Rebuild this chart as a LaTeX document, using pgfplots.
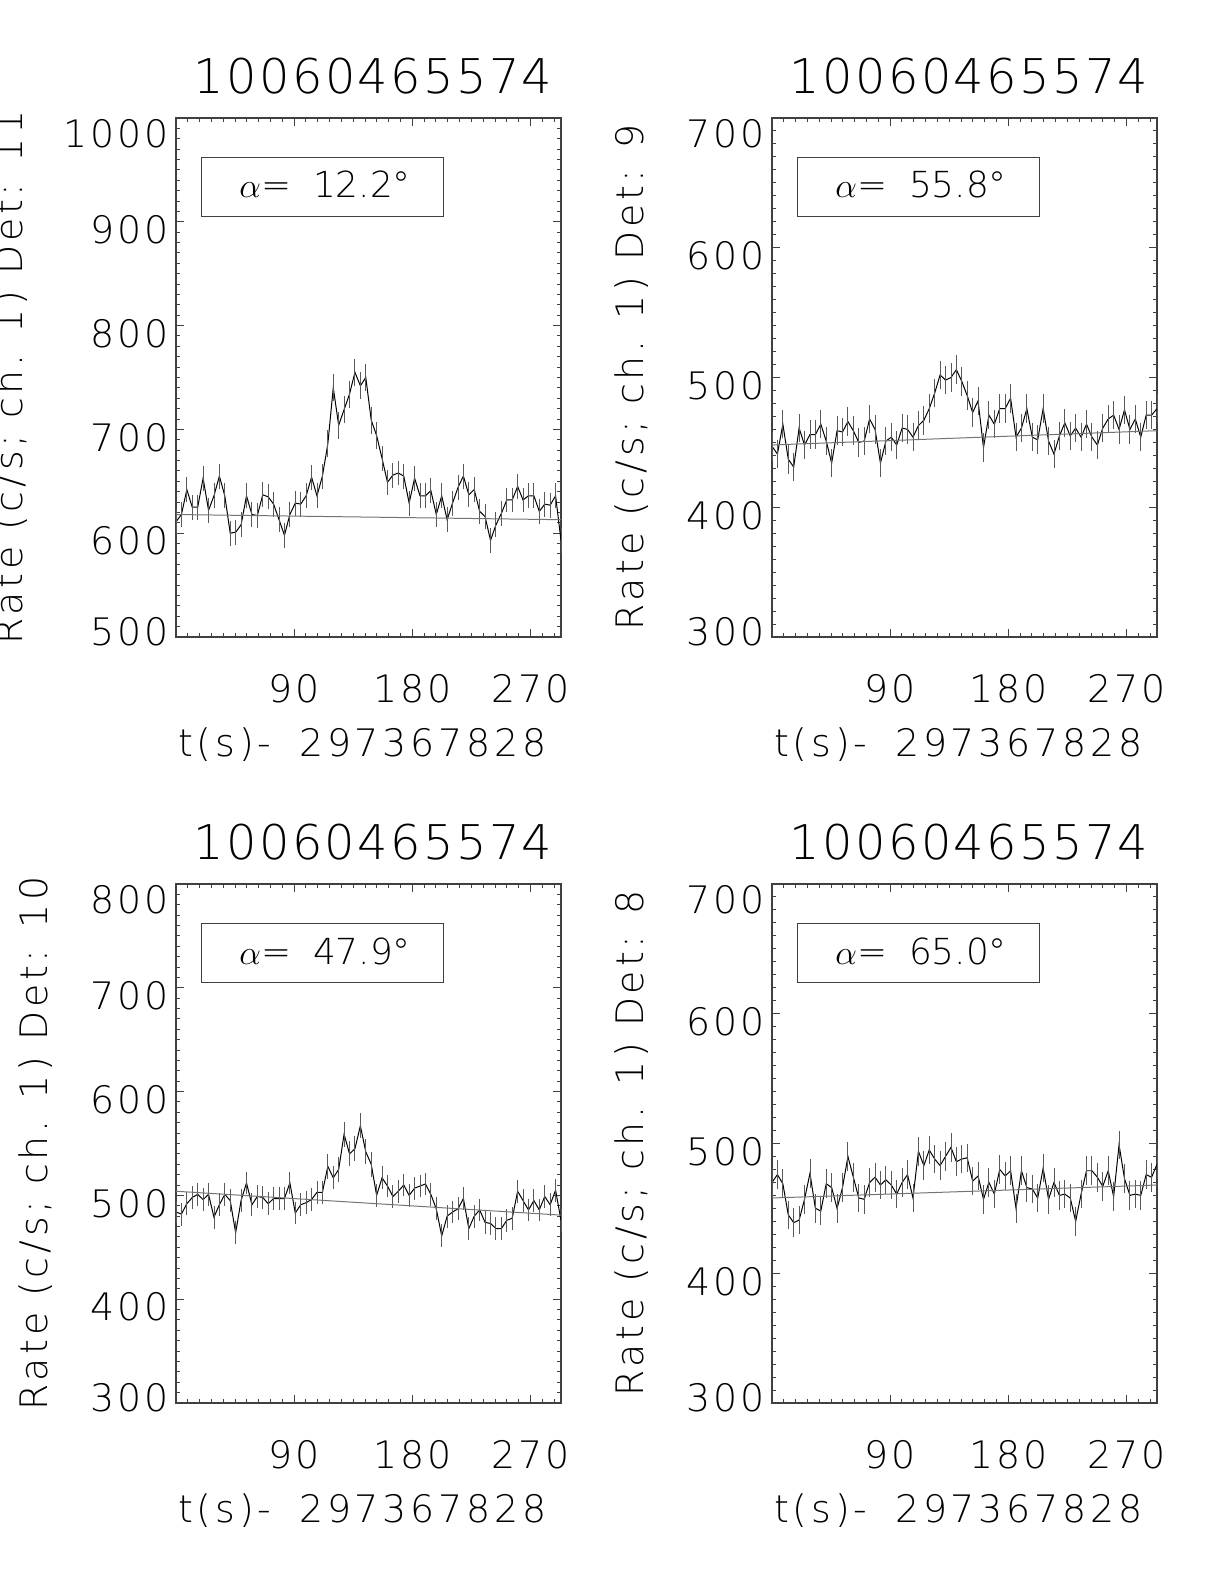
\documentclass[border=0pt]{standalone}
\usepackage{fontspec}
\setmainfont{DejaVu Sans ExtraLight}
\usepackage{pgfplots}
\usepackage{pgfplotstable}
\pgfplotsset{compat=1.18}

% light curves, 4.13 s bins; r = rate, e = 1 sigma
\pgfplotstableread{
t      r1  e1  r2  e2  r3  e3  r4  e4
0      611 12  447 11  484 11  470 11
4.13   618 12  441 11  482 11  476 11
8.26   642 12  464 11  492 11  469 11
12.39  625 12  437 11  498 11  445 11
16.52  625 12  431 11  501 11  439 11
20.65  653 12  461 11  496 11  441 11
24.78  622 12  448 11  501 11  457 11
28.91  636 12  456 11  479 11  477 11
33.04  655 12  456 11  491 11  450 11
37.17  636 12  464 11  501 11  448 11
41.3   600 12  451 11  495 11  469 11
45.43  601 12  434 11  464 11  466 11
49.56  608 12  459 11  495 11  450 11
53.69  636 12  458 11  512 11  466 11
57.82  618 12  466 11  491 11  490 11
61.95  617 12  459 11  499 11  474 11
66.08  637 12  450 11  498 11  458 11
70.21  635 12  451 11  492 11  457 11
74.34  628 12  468 11  497 11  470 11
78.47  613 12  460 11  497 11  474 11
82.6   598 12  434 11  497 11  468 11
86.73  618 12  451 11  512 11  472 11
90.86  629 12  454 11  483 11  468 11
94.99  628 12  448 11  491 11  461 11
99.12  636 12  461 11  493 11  470 11
103.25 654 12  460 11  496 11  476 11
107.38 636 12  454 11  503 11  458 11
111.51 655 12  463 11  503 11  494 11
115.64 686 13  467 11  528 12  483 11
119.77 740 13  476 11  517 11  495 11
123.9  704 13  488 11  525 12  488 11
128.03 719 13  502 11  559 12  483 11
132.16 734 13  498 11  540 12  490 11
136.29 755 13  500 11  545 12  497 11
140.42 742 13  506 11  567 12  486 11
144.55 750 13  497 11  542 12  488 11
148.68 709 13  486 11  530 12  489 11
152.81 694 13  473 11  500 11  471 11
156.94 672 12  482 11  517 11  475 11
161.07 649 12  446 11  509 11  457 11
165.2  656 12  471 11  499 11  470 11
169.33 658 12  464 11  504 11  461 11
173.46 655 12  476 11  510 11  480 11
177.59 629 12  476 11  500 11  475 11
181.72 653 12  484 11  507 11  479 11
185.85 636 12  454 11  509 11  450 11
189.98 636 12  461 11  511 11  479 11
194.11 641 12  476 11  501 11  466 11
198.24 618 12  454 11  487 11  465 11
202.37 636 12  452 11  461 11  458 11
206.5  613 12  476 11  480 11  481 11
210.63 629 12  451 11  484 11  457 11
214.76 644 12  441 11  487 11  470 11
218.89 655 12  455 11  497 11  460 11
223.02 637 12  465 11  468 11  461 11
227.15 642 12  455 11  480 11  458 11
231.28 621 12  461 11  486 11  440 11
235.41 616 12  454 11  474 11  461 11
239.54 593 12  464 11  473 11  479 11
243.67 608 12  454 11  468 11  479 11
247.8  619 12  448 11  468 11  474 11
251.93 632 12  461 11  476 11  467 11
256.06 632 12  468 11  478 11  479 11
260.19 645 12  471 11  504 11  459 11
264.32 632 12  460 11  495 11  499 11
268.45 636 12  475 11  486 11  473 11
272.58 636 12  460 11  495 11  460 11
276.71 621 12  468 11  486 11  461 11
280.84 628 12  454 11  499 11  460 11
284.97 627 12  471 11  491 11  476 11
289.1  636 12  471 11  505 11  474 11
293.23 593 12  476 11  476 11  484 11
}\lc

\newcommand{\tlbl}{\fontsize{19}{23}\selectfont\addfontfeatures{LetterSpace=8}}
\newcommand{\lbl}{\fontsize{19}{23}\selectfont\addfontfeatures{LetterSpace=10}}
% IDL pulls the end labels of the y axis inwards
\newcommand{\ytl}[1]{\ifnum\ticknum=0 \raisebox{6.5bp}[\height][\depth]{\pgfmathprintnumber{\tick}}\else
  \ifnum\ticknum=#1 \raisebox{-4bp}[\height][\depth]{\pgfmathprintnumber{\tick}}\else
  \pgfmathprintnumber{\tick}\fi\fi}

\pgfplotsset{
  idl/.style={
    scale only axis, width=192.5bp, height=259.5bp,
    xmin=0, xmax=293.23,
    axis line style={black!75, line width=0.6pt},
    tick align=inside,
    every tick/.style={black!75, line width=0.5pt},
    major tick length=4bp, minor tick length=2bp,
    xtick={0,90,180,270}, xticklabels={,90,180,270},
    minor xtick={9,18,...,288},
    minor y tick num=9,
    tick label style={font=\tlbl},
    /pgf/number format/assume math mode=true,
    /pgf/number format/set thousands separator={},
    xticklabel style={yshift=-15bp},
    yticklabel style={yshift=-4bp},
    title={10060465574},
    title style={font=\fontsize{24}{28}\selectfont\addfontfeatures{LetterSpace=5},
      at={(axis description cs:0.512,1.025)}, anchor=base},
    xlabel={t(s)-\hspace{14bp}297367828},
    xlabel style={font=\lbl, at={(axis description cs:0.484,-0.2312)}, anchor=base},
    ylabel style={font=\lbl, at={(axis description cs:-0.364,0.5)}, anchor=center},
    clip=false,
  },
  curve/.style={black, line width=0.5pt, mark=none,
    error bars/.cd, y dir=both, y explicit, error mark=none,
    error bar style={black!65, line width=0.45pt}},
  fit/.style={black!55, line width=0.5pt, mark=none},
}

\newcommand{\alphabox}[1]{%
  \node[draw=black!75, line width=0.5pt, minimum width=121bp, minimum height=29.5bp,
        inner sep=0pt, anchor=north west] (b) at ([xshift=12.5bp,yshift=-19.5bp]rel axis cs:0,1) {};
  \node[anchor=base west, inner sep=0pt, font=\fontsize{18}{22}\selectfont]
        at ([xshift=19bp,yshift=9.5bp]b.south west) {$\alpha$=\hspace{11bp}#1°};
}

\begin{document}
\begin{tikzpicture}
\path[use as bounding box] (0,0) rectangle (612bp,792bp);

\begin{axis}[idl, at={(88bp,473.5bp)}, anchor=south west,
  ymin=500, ymax=1000, ytick={500,600,...,1000}, yticklabel={\ytl{5}},
  ylabel={Rate (c/s; ch. 1) Det: 11},
  ylabel style={at={(axis description cs:-0.4286,0.5)}}]
  \addplot[curve] table[x=t, y=r1, y error=e1] {\lc};
  \addplot[fit] coordinates {(0,618) (293.23,613)};
  \alphabox{12.2}
\end{axis}

\begin{axis}[idl, at={(386bp,473.5bp)}, anchor=south west,
  ymin=300, ymax=700, ytick={300,400,...,700}, yticklabel={\ytl{4}},
  ylabel={Rate (c/s; ch. 1) Det: 9}]
  \addplot[curve] table[x=t, y=r2, y error=e2] {\lc};
  \addplot[fit] coordinates {(0,448) (293.23,459)};
  \alphabox{55.8}
\end{axis}

\begin{axis}[idl, at={(88bp,90.5bp)}, anchor=south west,
  ymin=300, ymax=800, ytick={300,400,...,800}, yticklabel={\ytl{5}},
  ylabel={Rate (c/s; ch. 1) Det: 10}]
  \addplot[curve] table[x=t, y=r3, y error=e3] {\lc};
  \addplot[fit] coordinates {(0,504) (293.23,481)};
  \alphabox{47.9}
\end{axis}

\begin{axis}[idl, at={(386bp,90.5bp)}, anchor=south west,
  ymin=300, ymax=700, ytick={300,400,...,700}, yticklabel={\ytl{4}},
  ylabel={Rate (c/s; ch. 1) Det: 8}]
  \addplot[curve] table[x=t, y=r4, y error=e4] {\lc};
  \addplot[fit] coordinates {(0,458) (293.23,468)};
  \alphabox{65.0}
\end{axis}
\end{tikzpicture}
\end{document}
